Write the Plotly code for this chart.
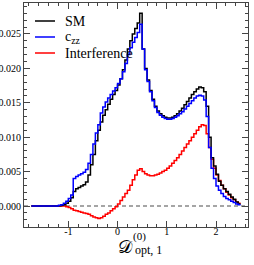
import plotly.graph_objects as go

# bin edges: -1.75 .. 2.5, width 0.05
bin_start = -1.75
bin_width = 0.05

sm = [0, 0, 0, 0, 0, 0, 0, 0, 0, 0, 0, 0.00005,
      0.0001, 0.0002, 0.0004, 0.0007, 0.0012, 0.0021, 0.0025, 0.0027, 0.0029, 0.0031,
      0.0035, 0.0045, 0.0060, 0.0075, 0.0095, 0.0110, 0.0122, 0.0132, 0.0140, 0.0148,
      0.0155, 0.0162, 0.0168, 0.0176, 0.0185, 0.0198, 0.0212, 0.0228, 0.0240, 0.0250,
      0.0258, 0.0266, 0.0280, 0.0228, 0.0200, 0.0183, 0.0168, 0.0155, 0.0145, 0.0138,
      0.0134, 0.0131, 0.0129, 0.0128, 0.0128, 0.0129, 0.0131, 0.0134, 0.0138, 0.0142,
      0.0147, 0.0152, 0.0157, 0.0162, 0.0166, 0.0170, 0.0173, 0.0172, 0.0166, 0.0145,
      0.0100, 0.0070, 0.0058, 0.0046, 0.0036, 0.0030, 0.0025, 0.0021, 0.0017, 0.0013,
      0.0010, 0.0006, 0.0003]

czz = [0, 0, 0, 0, 0, 0, 0, 0, 0, 0, 0, 0.0001,
       0.0002, 0.0004, 0.0007, 0.0011, 0.0016, 0.0040, 0.0043, 0.0045, 0.0047, 0.0049,
       0.0053, 0.0062, 0.0075, 0.0090, 0.0106, 0.0118, 0.0135, 0.0144, 0.0151, 0.0157,
       0.0162, 0.0167, 0.0172, 0.0178, 0.0185, 0.0195, 0.0207, 0.0220, 0.0230, 0.0238,
       0.0245, 0.0252, 0.0264, 0.0228, 0.0198, 0.0181, 0.0166, 0.0153, 0.0143, 0.0136,
       0.0132, 0.0129, 0.0127, 0.0126, 0.0126, 0.0127, 0.0129, 0.0131, 0.0134, 0.0137,
       0.0141, 0.0145, 0.0149, 0.0153, 0.0157, 0.0160, 0.0161, 0.0160, 0.0154, 0.0130,
       0.0085, 0.0055, 0.0040, 0.0029, 0.0023, 0.0018, 0.0014, 0.0011, 0.0009, 0.0007,
       0.0005, 0.0003, 0.0002]

interference = [0, 0, 0, 0, 0, 0, 0, 0, 0, 0, 0, 0,
                0, 0, -0.0001, -0.0002, -0.0004, -0.0006, -0.0007, -0.0008, -0.0009, -0.0010,
                -0.0011, -0.0012, -0.0014, -0.0016, -0.0017, -0.0018, -0.0017, -0.0015, -0.0012, -0.0010,
                -0.0007, -0.0004, -0.0001, 0.0003, 0.0008, 0.0013, 0.0018, 0.0023, 0.0030, 0.0038,
                0.0045, 0.0052, 0.0054, 0.0050, 0.0047, 0.0045, 0.0044, 0.0044, 0.0045, 0.0046,
                0.0048, 0.0050, 0.0052, 0.0055, 0.0058, 0.0062, 0.0066, 0.0070, 0.0075, 0.0080,
                0.0085, 0.0090, 0.0095, 0.0100, 0.0105, 0.0110, 0.0115, 0.0118, 0.0117, 0.0105,
                0.0085, 0.0068, 0.0055, 0.0045, 0.0037, 0.0030, 0.0025, 0.0020, 0.0016, 0.0012,
                0.0009, 0.0006, 0.0004]

series_names = ["SM", "c<sub>zz</sub>", "Interference"]
series_colors = ["black", "#0000ff", "#ff0000"]
x_tick_vals = [-1, 0, 1, 2]
x_tick_text = ["-1", "0", "1", "2"]
y_tick_vals = [0.0, 0.005, 0.010, 0.015, 0.020, 0.025]
y_tick_text = ["0.000", "0.005", "0.010", "0.015", "0.020", "0.025"]

n = len(sm)
edges = [round(bin_start + bin_width * i, 4) for i in range(n + 1)]

fig = go.Figure()
for vals, name, col in [(interference, series_names[2], series_colors[2]),
                        (sm, series_names[0], series_colors[0]),
                        (czz, series_names[1], series_colors[1])]:
    fig.add_trace(go.Scatter(x=edges, y=list(vals) + [vals[-1]], mode="lines",
                             line=dict(color=col, width=1.5, shape="hv"),
                             name=name, showlegend=False, hoverinfo="skip"))

# zero dashed line
fig.add_shape(type="line", xref="paper", yref="y", x0=0, x1=1, y0=0, y1=0,
              line=dict(color="#888888", width=1.3, dash="4px,3px"), layer="below")

# manual legend
font_serif = "Times New Roman"
leg_y_px = [21, 37, 53]
W, H = 224, 224
for nm, col, py in zip(series_names, series_colors, leg_y_px):
    yp = (227 - py) / H
    fig.add_shape(type="line", xref="paper", yref="paper",
                  x0=(35 - 24) / W, x1=(55 - 24) / W, y0=yp, y1=yp,
                  line=dict(color=col, width=1.5))
    fig.add_annotation(xref="paper", yref="paper", x=(63 - 24) / W, y=yp,
                       xanchor="left", yanchor="middle", showarrow=False,
                       text=nm, font=dict(family=font_serif, size=14, color="black"))

# axis title pieces
fig.add_annotation(xref="paper", yref="paper", x=(125 - 24) / W, y=(227 - 246) / H,
                   xanchor="center", yanchor="middle", showarrow=False,
                   text="𝒟", font=dict(family="DejaVu Serif", size=18, color="black"))
fig.add_annotation(xref="paper", yref="paper", x=(131 - 24) / W, y=(227 - 236) / H,
                   xanchor="left", yanchor="middle", showarrow=False,
                   text="(0)", font=dict(family=font_serif, size=11, color="black"))
fig.add_annotation(xref="paper", yref="paper", x=(133 - 24) / W, y=(227 - 250) / H,
                   xanchor="left", yanchor="middle", showarrow=False,
                   text="opt, 1", font=dict(family=font_serif, size=12, color="black"))

axis_common = dict(showline=True, linecolor="#444444", linewidth=1, mirror="ticks",
                   ticks="inside", ticklen=6, tickcolor="#444444", tickwidth=1,
                   showgrid=False, zeroline=False, automargin=False,
                   tickfont=dict(family=font_serif, size=10, color="black"))

fig.update_xaxes(range=[-1.9, 2.65], tickvals=x_tick_vals, ticktext=x_tick_text,
                 ticklabelstandoff=-5,
                 minor=dict(dtick=0.2, tick0=0, ticks="inside", ticklen=3,
                            tickcolor="#444444", showgrid=False),
                 **axis_common)
fig.update_yaxes(range=[-0.00305, 0.0295], tickvals=y_tick_vals, ticktext=y_tick_text,
                 minor=dict(dtick=0.001, tick0=0, ticks="inside", ticklen=3,
                            tickcolor="#444444", showgrid=False),
                 **axis_common)

fig.update_layout(width=254, height=265, margin=dict(l=24, r=6, t=3, b=38),
                  paper_bgcolor="white", plot_bgcolor="white")

fig.write_html("out.html", config={"displayModeBar": False},
               post_script="document.body.style.margin='0px';document.body.style.overflow='hidden';")
